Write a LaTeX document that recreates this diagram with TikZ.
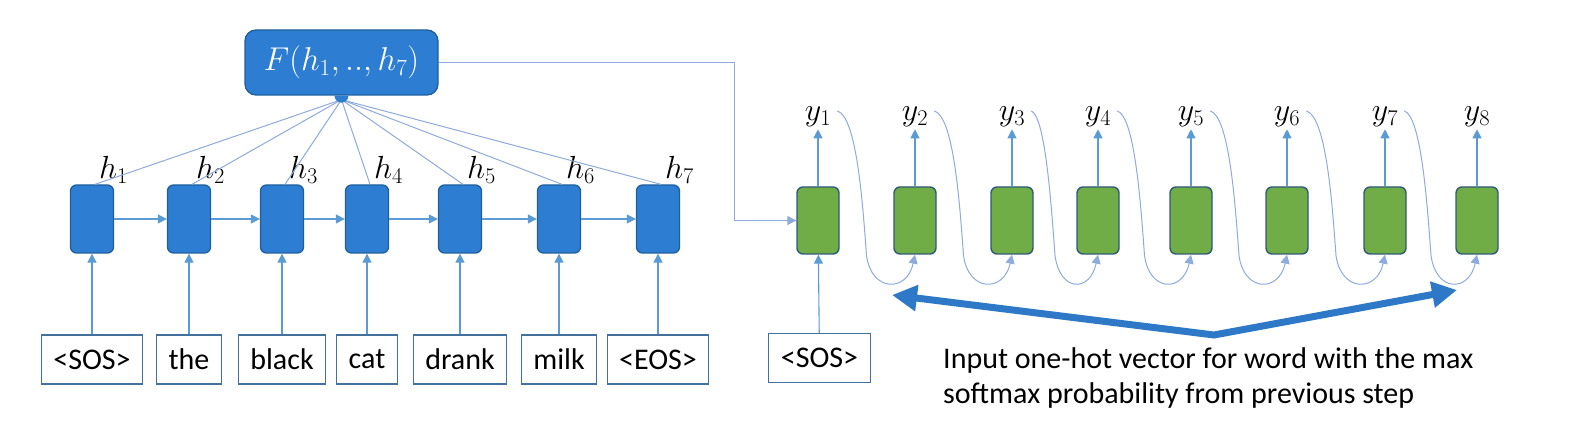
\RequirePackage{fix-cm}
\documentclass[tikz,border=0pt]{standalone}
\usepackage[no-math]{fontspec}
\setmainfont{Carlito}
\usetikzlibrary{arrows.meta,positioning,calc}
\definecolor{cellblue}{HTML}{2D7DD2}
\definecolor{celledge}{HTML}{1F5F9E}
\definecolor{cellgreen}{HTML}{70AD47}
\definecolor{greenedge}{HTML}{2F5A78}
\definecolor{boxedge}{HTML}{41719C}
\definecolor{linkblue}{HTML}{5B9BD5}
\definecolor{fanblue}{HTML}{8FAADC}
\definecolor{bigblue}{HTML}{2E78C8}
\tikzset{
  enccell/.style={draw=celledge, line width=1.3pt, fill=cellblue, rounded corners=6pt, minimum width=43pt, minimum height=68pt, inner sep=0pt},
  deccell/.style={draw=greenedge, line width=1.4pt, fill=cellgreen, rounded corners=6pt, minimum width=42pt, minimum height=67pt, inner sep=0pt},
  wordbox/.style={draw=boxedge, line width=1.2pt, fill=white, minimum height=49pt, inner xsep=12pt, font=\fontsize{30}{35}\selectfont},
  lab/.style={inner sep=0pt, font=\fontsize{32}{34}\selectfont},
  tip/.style={-{Triangle[length=9pt,width=9pt]}},
  link/.style={tip, draw=linkblue, line width=1.1pt},
  fan/.style={draw=fanblue, line width=1pt}
}
\begin{document}
\begin{tikzpicture}[x=1pt,y=-1pt]
  \useasboundingbox (0,0) rectangle (1575,435);
  % encoder
  \node[enccell, minimum width=193pt, minimum height=65pt, rounded corners=11pt, text=white,
        font=\fontsize{33}{35}\selectfont] (F) at (341.5,62.5) {$F(h_1,..,h_7)$};
  \coordinate (Fdot) at ([yshift=-4pt]F.south);
  \foreach \x/\w [count=\i] in {92/{<SOS>},189/the,282/black,367/cat,460/drank,559/milk,658/{<EOS>}} {
    \node[enccell] (e\i) at (\x,219) {};
    \node[wordbox] (w\i) at (\x,359.5) {\w};
    \node[lab, above right=1pt and 7pt of e\i.north] (h\i) {$h_\i$};
    \draw[link] (w\i) -- (e\i);
    \draw[fan] (Fdot) -- ([xshift=3pt]e\i.north);
  }
  \foreach \i [count=\j from 2] in {1,...,6}
    \draw[link] (e\i) -- (e\j);
  \fill[cellblue] ([xshift=-7pt]F.south) arc[start angle=180, end angle=360, radius=7pt] -- cycle;
  % decoder
  \foreach \x [count=\i] in {818,915,1012,1098,1191,1287,1385,1477} {
    \node[deccell] (d\i) at (\x,220.5) {};
    \node[lab, inner sep=2pt, above=57pt of d\i.north, anchor=south] (y\i) {$y_\i$};
    \draw[link] (d\i) -- (y\i);
  }
  \node[wordbox] (s0) at (819.5,358) {<SOS>};
  \draw[link] (s0) -- (d1);
  \coordinate (turn) at (734,220.5);
  \draw[fan, tip] (F.east) -| (turn) -- (d1.west);
  \foreach \i [count=\j from 2] in {1,...,7} {
    \coordinate (m) at ($(d\i)!.5!(d\j)$);
    \draw[fan, tip] ($(y\i.north east)+(4,6)$) .. controls ([shift={(-10,-104)}]m) and ([shift={(-4,-20)}]m) .. ([shift={(0,35)}]m)
      .. controls ([shift={(5,72)}]m) and ([shift={(-8,72)}]d\j) .. (d\j.south);
  }
  % note
  \coordinate (bl) at (892,295);
  \coordinate (bm) at (1214,335);
  \coordinate (br) at (1457,290);
  \draw[draw=bigblue, line width=7pt, {Triangle[length=25pt,width=25pt]}-{Triangle[length=25pt,width=25pt]}] (bl) -- (bm) -- (br);
  \node[anchor=north west, inner sep=0pt, align=left, font=\fontsize{30}{35}\selectfont] (note) at (943,347)
    {Input one-hot vector for word with the max\\softmax probability from previous step};
\end{tikzpicture}
\end{document}
